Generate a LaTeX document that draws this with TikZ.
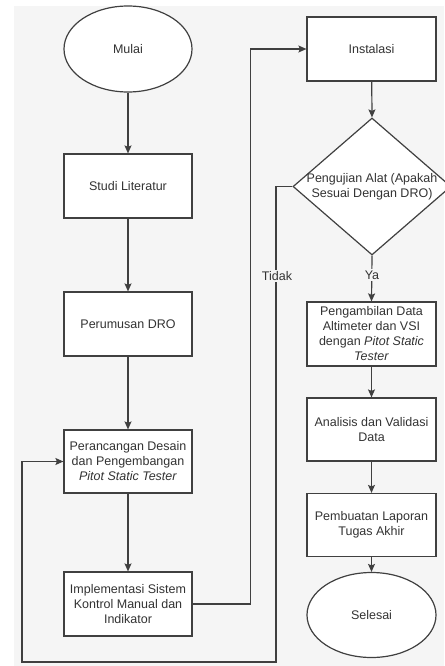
\documentclass[tikz,border=0pt]{standalone}
\usepackage{fontspec}
\setmainfont{Liberation Sans}
\usetikzlibrary{shapes.geometric,arrows.meta}
\definecolor{bg}{HTML}{F5F5F5}
\definecolor{ln}{HTML}{404040}
\definecolor{tx}{HTML}{333333}
\tikzset{
  every node/.style={font=\fontsize{12.5}{15}\selectfont, text=tx},
  boxnode/.style={draw=ln, line width=1.2pt, fill=white, rectangle, align=center,
    minimum width=128pt, minimum height=64pt, inner sep=1pt},
  ovalnode/.style={draw=ln, line width=1.2pt, fill=white, ellipse, align=center,
    minimum width=128pt, minimum height=86pt, inner sep=0pt},
  decnode/.style={draw=ln, line width=1.2pt, fill=white, diamond, aspect=1.15,
    minimum width=158pt, minimum height=137pt, inner sep=0pt},
  lbl/.style={fill=bg, inner sep=1.5pt},
  conn/.style={draw=ln, line width=1.2pt, -{Stealth[width=7pt,length=8pt,inset=1.5pt]}},
  plainline/.style={draw=ln, line width=1.2pt}
}
\begin{document}
\begin{tikzpicture}[x=1pt,y=-1pt]
\useasboundingbox (0,0) rectangle (444,666);
\fill[white] (0,0) rectangle (444,666);
\fill[bg] (14,6) rectangle (444,666);

% left column
\node[ovalnode] (mulai) at (128,49) {Mulai};
\node[boxnode] (studi) at (128,186) {Studi Literatur};
\node[boxnode] (rumus) at (128,324) {Perumusan DRO};
\node[boxnode, minimum height=63pt] (rancang) at (128,461.5) {Perancangan Desain\\dan Pengembangan\\\textit{Pitot Static Tester}};
\node[boxnode] (impl) at (128,604) {Implementasi Sistem\\Kontrol Manual dan\\Indikator};

% right column
\node[boxnode, minimum width=129pt] (inst) at (371.5,49) {Instalasi};
\node[decnode, label={[align=center, font=\fontsize{12.5}{15}\selectfont, text=tx]center:Pengujian Alat (Apakah\\Sesuai Dengan DRO)}] (uji) at (372,186.5) {};
\node[boxnode, minimum width=129pt] (ambil) at (371.5,334) {Pengambilan Data\\Altimeter dan VSI\\dengan \textit{Pitot Static}\\\textit{Tester}};
\node[boxnode, minimum width=129pt, minimum height=63pt] (anal) at (371.5,429.5) {Analisis dan Validasi\\Data};
\node[boxnode, minimum width=129pt, minimum height=63pt] (lapor) at (371.5,525) {Pembuatan Laporan\\Tugas Akhir};
\node[ovalnode, minimum width=129pt, minimum height=85pt] (selesai) at (371.5,615) {Selesai};

\coordinate (t1) at (276,662);
\coordinate (t2) at (22,662);

% connectors
\draw[conn] (mulai) -- (studi);
\draw[conn] (studi) -- (rumus);
\draw[conn] (rumus) -- (rancang);
\draw[conn] (rancang) -- (impl);
\draw[conn] (impl.east) -- ++(58,0) |- (inst.west);
\draw[conn] (inst) -- (uji.north);
\draw[conn] (uji.south) -- (ambil.north);
\draw[conn] (ambil) -- (anal);
\draw[conn] (anal) -- (lapor);
\draw[conn] (lapor) -- (selesai);
\draw[conn] (uji.west) -| (t1) -- (t2) |- (rancang.west);

\node[lbl] (ya) at (372,275) {Ya};
\node[lbl] (tidak) at (277,276) {Tidak};
\end{tikzpicture}
\end{document}
